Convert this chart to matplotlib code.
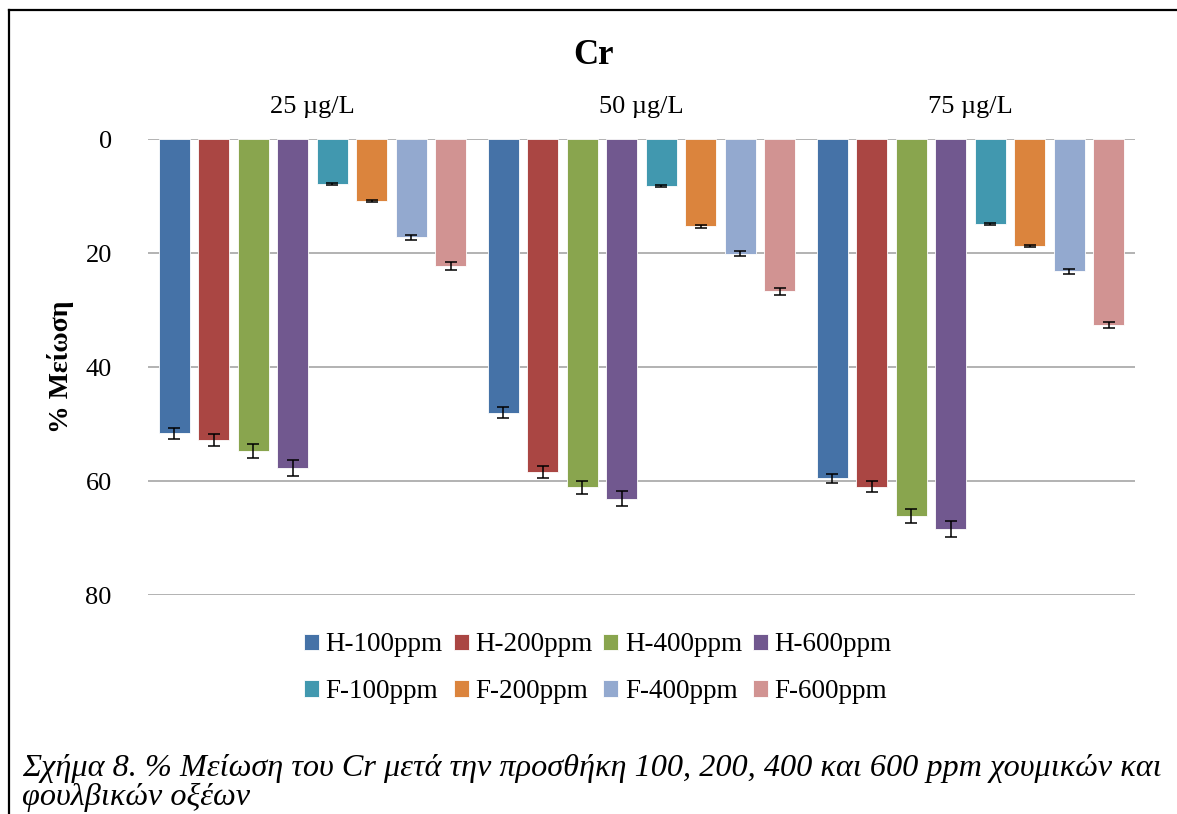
import numpy as np
import matplotlib
matplotlib.use("Agg")
import matplotlib.pyplot as plt
from matplotlib.lines import Line2D

plt.rcParams["font.family"] = ["Liberation Serif", "DejaVu Serif"]

groups = ["25 µg/L", "50 µg/L", "75 µg/L"]
series = ["H-100ppm", "H-200ppm", "H-400ppm", "H-600ppm",
          "F-100ppm", "F-200ppm", "F-400ppm", "F-600ppm"]
colors = ["#4572A7", "#AA4643", "#89A54E", "#71588F",
          "#4198AF", "#DB843D", "#93A9CF", "#D19392"]

# % reduction per series, one value per concentration group
h100 = [51.6, 48.0, 59.5]
h200 = [52.8, 58.4, 61.0]
h400 = [54.7, 61.1, 66.1]
h600 = [57.7, 63.1, 68.4]
f100 = [7.9, 8.2, 14.9]
f200 = [10.9, 15.3, 18.7]
f400 = [17.2, 20.1, 23.2]
f600 = [22.2, 26.7, 32.6]

h100_err = [1.0, 1.0, 0.8]
h200_err = [1.05, 1.0, 1.0]
h400_err = [1.2, 1.1, 1.2]
h600_err = [1.4, 1.3, 1.35]
f100_err = [0.2, 0.2, 0.2]
f200_err = [0.2, 0.3, 0.2]
f400_err = [0.45, 0.4, 0.45]
f600_err = [0.7, 0.6, 0.6]

values = [h100, h200, h400, h600, f100, f200, f400, f600]
errors = [h100_err, h200_err, h400_err, h600_err,
          f100_err, f200_err, f400_err, f600_err]

fig = plt.figure(figsize=(11.77, 8.14), dpi=100)
ax = fig.add_axes([0.1257, 0.269, 0.8386, 0.560])

x = np.arange(len(groups))
step = 0.12
width = 0.094
handles = []
for j, (vals, errs) in enumerate(zip(values, errors)):
    pos = x + (j - 3.5) * step
    b = ax.bar(pos, vals, width, color=colors[j], edgecolor="white",
               linewidth=0.6, label=series[j], zorder=2)
    handles.append(b)
    ax.errorbar(pos, vals, yerr=errs, fmt="none", ecolor="black",
                elinewidth=1.1, capsize=4.3, capthick=1.1, zorder=3)

ax.set_xlim(-0.5, 2.5)
ax.set_ylim(80, 0)
ax.set_yticks([0, 20, 40, 60, 80])
ax.set_xticks([])
ax.tick_params(axis="y", length=0, labelsize=19, pad=26)
ax.grid(axis="y", color="#A6A6A6", linewidth=1.2, zorder=0)
for s in ax.spines.values():
    s.set_visible(False)

for i, g in enumerate(groups):
    ax.text(i, -5.6, g, ha="center", va="center", fontsize=19,
            clip_on=False)

ax.set_ylabel("% Μείωση", fontsize=20, fontweight="bold", labelpad=8)

fig.text(0.504, 0.932, "Cr", ha="center", va="center",
         fontsize=25, fontweight="bold")

# legend fills column by column, so interleave to get rows H..., F...
order = [0, 4, 1, 5, 2, 6, 3, 7]
fig.legend([handles[k] for k in order], [series[k] for k in order],
           loc="center", bbox_to_anchor=(0.508, 0.179),
           ncol=4, frameon=False, fontsize=19.5,
           handlelength=0.55, handleheight=0.55, handletextpad=0.25,
           columnspacing=0.4, labelspacing=0.8,
           bbox_transform=fig.transFigure)

fig.text(0.019, 0.038,
         "Σχήμα 8. % Μείωση του Cr μετά την προσθήκη 100, 200, 400 και 600 ppm χουμικών και\nφουλβικών οξέων",
         ha="left", va="center", fontsize=23.2, style="italic", linespacing=1.0)

# frame lines around the chart (left and top)
fig.add_artist(Line2D([0.0075, 0.0075], [0.0, 0.988], color="black",
                      linewidth=1.6, transform=fig.transFigure))
fig.add_artist(Line2D([0.0075, 1.0], [0.988, 0.988], color="black",
                      linewidth=1.6, transform=fig.transFigure))

fig.savefig("out.png", dpi=100)
